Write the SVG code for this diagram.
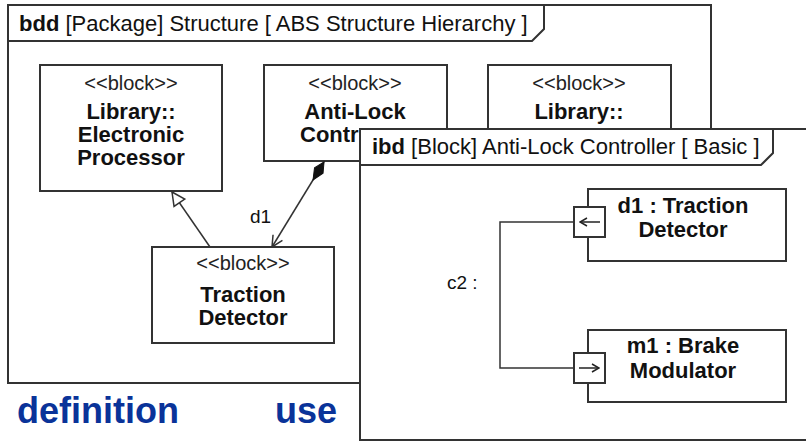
<svg xmlns="http://www.w3.org/2000/svg" width="806" height="441" viewBox="0 0 806 441">
<style>
text{font-family:"Liberation Sans",Arial,sans-serif;fill:#111}
.frame{fill:#fff;stroke:#333;stroke-width:2}
.box{fill:#fff;stroke:#333;stroke-width:2}
.tab{fill:none;stroke:#333;stroke-width:2}
.title{font-size:22px}
.kw{font-weight:bold}
.st{font-size:20px;text-anchor:middle;fill:#222}
.nm{font-size:22px;font-weight:bold;text-anchor:middle}
.lbl{font-size:19px}
.conn{fill:none;stroke:#333;stroke-width:1.5}
.big{font-size:36px;font-weight:bold;fill:#0a3399}
</style>
<defs>
<marker id="hollowTri" markerUnits="userSpaceOnUse" markerWidth="16" markerHeight="16" viewBox="-15 -8 16 16" refX="0" refY="0" orient="auto">
<path d="M0,0 L-13,-6.5 L-13,6.5 Z" fill="#fff" stroke="#333" stroke-width="1.5"/>
</marker>
<marker id="diamond" markerUnits="userSpaceOnUse" markerWidth="24" markerHeight="12" viewBox="-1 -6 24 12" refX="0" refY="0" orient="auto">
<path d="M0,0 L10,-5 L21,0 L10,5 Z" fill="#111" stroke="#111" stroke-width="1"/>
</marker>
<marker id="openArrow" markerUnits="userSpaceOnUse" markerWidth="14" markerHeight="14" viewBox="-13 -7 14 14" refX="0" refY="0" orient="auto">
<path d="M-11,-5.5 L0,0 L-11,5.5" fill="none" stroke="#333" stroke-width="1.5"/>
</marker>
<marker id="smallArrow" markerUnits="userSpaceOnUse" markerWidth="10" markerHeight="10" viewBox="-9 -5 10 10" refX="0" refY="0" orient="auto">
<path d="M-7,-4 L0,0 L-7,4" fill="none" stroke="#222" stroke-width="1.5"/>
</marker>
</defs>

<rect width="806" height="441" fill="#fff"/>

<g id="bdd-frame">
<rect class="frame" x="8" y="5" width="703" height="378"/>
<path class="tab" d="M8,41 L532,41 L544,29 L544,5"/>
<text class="title" x="19" y="31"><tspan class="kw">bdd</tspan> [Package] Structure [ ABS Structure Hierarchy ]</text>
</g>

<g id="block-electronic-processor">
<rect class="box" x="40" y="65" width="182" height="126"/>
<text class="st" x="131" y="90">&lt;&lt;block&gt;&gt;</text>
<text class="nm" x="131" y="119">Library::</text>
<text class="nm" x="131" y="142">Electronic</text>
<text class="nm" x="131" y="165">Processor</text>
</g>

<g id="block-anti-lock-controller">
<rect class="box" x="264" y="65" width="183" height="96"/>
<text class="st" x="355" y="90">&lt;&lt;block&gt;&gt;</text>
<text class="nm" x="355" y="119">Anti-Lock</text>
<text class="nm" x="300" y="142" style="text-anchor:start">Contr</text>
</g>

<g id="block-library-3">
<rect class="box" x="488" y="65" width="183" height="96"/>
<text class="st" x="579" y="90">&lt;&lt;block&gt;&gt;</text>
<text class="nm" x="579" y="119">Library::</text>
</g>

<g id="block-traction-detector">
<rect class="box" x="152" y="247" width="182" height="96"/>
<text class="st" x="243" y="270">&lt;&lt;block&gt;&gt;</text>
<text class="nm" x="243" y="302">Traction</text>
<text class="nm" x="243" y="325">Detector</text>
</g>

<g id="bdd-connectors">
<line class="conn" x1="210" y1="247" x2="172" y2="192" marker-end="url(#hollowTri)"/>
<line class="conn" x1="324" y1="162" x2="272" y2="247" marker-start="url(#diamond)" marker-end="url(#openArrow)"/>
<text class="lbl" x="250" y="223">d1</text>
</g>

<g id="ibd-frame">
<rect class="frame" x="360" y="129" width="450" height="311"/>
<path class="tab" d="M360,165 L761,165 L773,153 L773,129"/>
<text class="title" x="372" y="154"><tspan class="kw">ibd</tspan> [Block] Anti-Lock Controller [ Basic ]</text>
</g>

<g id="part-d1">
<rect class="box" x="588" y="189" width="198" height="72"/>
<text class="nm" x="683" y="213">d1 : Traction</text>
<text class="nm" x="683" y="237">Detector</text>
<rect class="box" x="574" y="207" width="31" height="30"/>
<line x1="600" y1="222" x2="580" y2="222" stroke="#222" stroke-width="1.5" marker-end="url(#smallArrow)"/>
</g>

<g id="part-m1">
<rect class="box" x="588" y="330" width="198" height="72"/>
<text class="nm" x="683" y="353">m1 : Brake</text>
<text class="nm" x="683" y="378">Modulator</text>
<rect class="box" x="574" y="353" width="31" height="30"/>
<line x1="579" y1="368" x2="599" y2="368" stroke="#222" stroke-width="1.5" marker-end="url(#smallArrow)"/>
</g>

<g id="ibd-connectors">
<polyline class="conn" points="574,222 500,222 500,368 574,368"/>
<text class="lbl" x="447" y="289">c2 :</text>
</g>

<g id="captions">
<text class="big" x="17" y="423">definition</text>
<text class="big" x="275" y="423">use</text>
</g>
</svg>
